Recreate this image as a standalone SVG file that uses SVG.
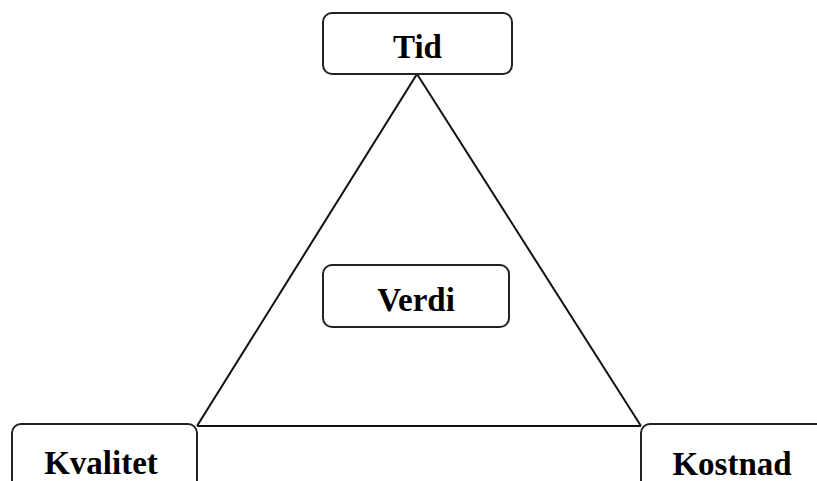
<svg xmlns="http://www.w3.org/2000/svg" width="817" height="481" viewBox="0 0 817 481">
  <style>
    .box { fill: #ffffff; stroke: #222222; stroke-width: 2; }
    .edge { fill: none; stroke: #111111; stroke-width: 2; }
    .label { font-family: "Liberation Serif", "Times New Roman", serif; font-weight: bold; font-size: 33px; fill: #000000; text-anchor: middle; }
  </style>
  <rect width="817" height="481" fill="#ffffff"/>
  <g id="connectors">
    <line class="edge" x1="417" y1="74" x2="197" y2="426"/>
    <line class="edge" x1="417" y1="74" x2="641" y2="426"/>
    <line class="edge" x1="197" y1="426" x2="641" y2="426"/>
  </g>
  <g id="tid">
    <rect class="box" x="323" y="13" width="189" height="61" rx="9"/>
    <text class="label" x="417.5" y="58">Tid</text>
  </g>
  <g id="verdi">
    <rect class="box" x="323" y="265" width="186" height="62" rx="9"/>
    <text class="label" x="416" y="311">Verdi</text>
  </g>
  <g id="kvalitet">
    <rect class="box" x="12" y="424" width="185" height="80" rx="9"/>
    <text class="label" x="101" y="474">Kvalitet</text>
  </g>
  <g id="kostnad">
    <rect class="box" x="641" y="424" width="200" height="80" rx="9"/>
    <text class="label" x="732" y="475">Kostnad</text>
  </g>
</svg>
